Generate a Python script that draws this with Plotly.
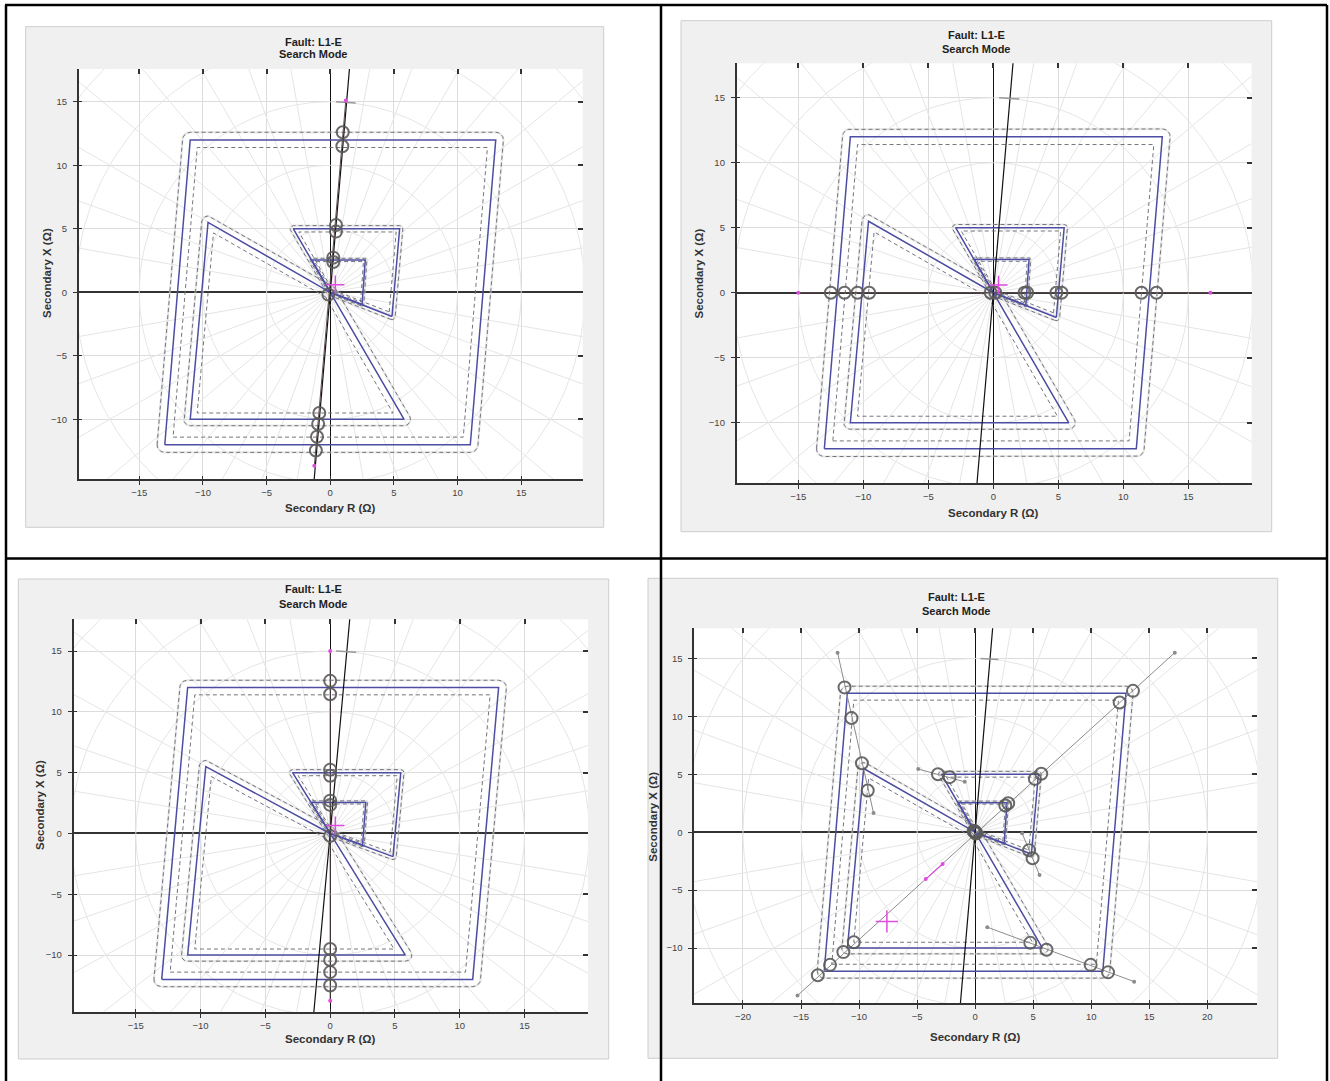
import numpy as np
import plotly.graph_objects as go

W, H = 1330, 1081

# ---------------- zone characteristics (secondary ohms) ----------------
zone1_R = [-11.0, 13.0, 11.0, -13.0]
zone1_X = [12.0, 12.0, -12.0, -12.0]
zone2_R = [0.0, -9.6, -11.0, 5.8]
zone2_X = [0.0, 5.5, -10.0, -10.0]
zone3_R = [0.0, -2.9, 5.45, 4.85]
zone3_X = [0.0, 5.0, 5.0, -1.9]
zone4_R = [0.0, -1.45, 2.75, 2.5]
zone4_X = [0.0, 2.55, 2.55, -0.95]
zone_tol = [0.6, 0.5, 0.25, 0.13]

line_angle_deg = 85.1          # line impedance angle
polar_radii = [5, 10, 15, 20, 25, 30]
polar_step_deg = 10

# ---------------- search results ----------------
# plot 1: search along the line angle
p1_hit_R = [0.98, 0.95, 0.45, 0.45, 0.24, 0.24, -0.15, -0.86, -0.95, -1.04, -1.13]
p1_hit_X = [12.6, 11.5, 5.3, 4.78, 2.73, 2.39, -0.18, -9.5, -10.37, -11.37, -12.45]
p1_end_R = [1.22, -1.25]
p1_end_X = [15.1, -13.65]
p1_fault_R = [0.4]
p1_fault_X = [0.6]

# plot 2: search along the R axis
p2_hit_R = [-12.5, -11.45, -10.45, -9.55, -0.2, 0.15, 2.4, 2.6, 4.85, 5.25, 11.4, 12.55]
p2_hit_X = [0.0] * 12
p2_end_R = [-15.0, 16.7]
p2_end_X = [0.0, 0.0]
p2_fault_R = [0.4]
p2_fault_X = [0.6]

# plot 3: search along the X axis
p3_hit_R = [0.0] * 11
p3_hit_X = [12.55, 11.45, 5.25, 4.75, 2.7, 2.35, -0.2, -9.5, -10.4, -11.4, -12.5]
p3_end_R = [0.0, 0.0]
p3_end_X = [15.0, -13.75]
p3_fault_R = [0.4]
p3_fault_X = [0.65]

# plot 4: several search lines
p4_lines_R = [[-15.3, 17.2], [-11.85, -8.75], [-4.9, -0.9], [4.05, 5.55], [1.05, 13.7]]
p4_lines_X = [[-14.1, 15.5], [15.5, 1.65], [5.45, 4.35], [-0.1, -3.7], [-8.2, -12.9]]
p4_hit_R = [13.6, 12.45, 5.7, 5.15, 2.85, 2.6, -10.45, -11.35, -12.5, -13.55,
            -11.25, -10.65, -9.75, -9.25, -3.2, -2.2, 4.65, 4.95,
            4.75, 6.15, 9.95, 11.45, 0.0, -0.12, 0.1, 0.05, -0.05]
p4_hit_X = [12.2, 11.2, 5.05, 4.6, 2.5, 2.3, -9.5, -10.35, -11.45, -12.35,
            12.5, 9.85, 5.95, 3.6, 5.0, 4.75, -1.55, -2.25,
            -9.55, -10.15, -11.45, -12.1, 0.0, 0.08, -0.06, -0.12, 0.1]
p4_test_R = [-2.8, -4.25]
p4_test_X = [-2.75, -4.05]
p4_fault_R = [-7.6]
p4_fault_X = [-7.7]

arc_mark_R = [0.45, 2.0]
arc_mark_X = [15.0, 14.9]

# ---------------- layout geometry (pixels) ----------------
panels = [
    dict(plot=(78.7, 582.7, 69.0, 479.3), xr=(-19.76, 19.83), yr=(-14.72, 17.58),
         bg=(25.7, 603.7, 26.7, 527.3), title=(313, 41.5, 54.0),
         xt=(330.5, 508.3), yt=(47, 273), xticks=[-15, -10, -5, 0, 5, 10, 15]),
    dict(plot=(736.6, 1251.6, 63.3, 483.3), xr=(-19.75, 19.87), yr=(-14.66, 17.65),
         bg=(681, 1271.7, 20.7, 531.7), title=(976, 35.0, 48.5),
         xt=(993, 512.7), yt=(698.5, 273), xticks=[-15, -10, -5, 0, 5, 10, 15]),
    dict(plot=(73.5, 588.0, 619.2, 1012.0), xr=(-19.81, 19.9), yr=(-14.68, 17.62),
         bg=(18.3, 608.7, 579, 1059), title=(313, 589.0, 604),
         xt=(330, 1039.3), yt=(40, 805), xticks=[-15, -10, -5, 0, 5, 10, 15]),
    dict(plot=(694.2, 1257.2, 628.3, 1003.3), xr=(-24.2, 24.3), yr=(-14.77, 17.6),
         bg=(648, 1277.7, 578.3, 1058.3), title=(956, 597.0, 611.0),
         xt=(975, 1036.7), yt=(653, 816.7), xticks=[-20, -15, -10, -5, 0, 5, 10, 15, 20]),
]
yticks = [-10, -5, 0, 5, 10, 15]

ZONE_COLOR = "#4d4da3"
TOL_COLOR = "#74747e"
HALO_COLOR = "rgba(215,215,215,0.55)"
GRID_COLOR = "#dcdcdc"
POLAR_COLOR = "#e5e5e5"
HIT_COLOR = "rgba(90,90,90,0.9)"
MAGENTA = "#e04be0"
FONT = "Liberation Sans, Arial, sans-serif"


def ccw(R, X):
    P = np.column_stack([R, X]).astype(float)
    x, y = P[:, 0], P[:, 1]
    area = 0.5 * np.sum(x * np.roll(y, -1) - np.roll(x, -1) * y)
    return P if area > 0 else P[::-1]


def outer_band(R, X, d, n=10):
    P = ccw(R, X)
    m = len(P)
    pts = []
    for i in range(m):
        e0 = P[i] - P[i - 1]
        e1 = P[(i + 1) % m] - P[i]
        n0 = np.array([e0[1], -e0[0]]) / np.hypot(*e0)
        n1 = np.array([e1[1], -e1[0]]) / np.hypot(*e1)
        a0 = np.arctan2(n0[1], n0[0])
        a1 = np.arctan2(n1[1], n1[0])
        if a1 < a0:
            a1 += 2 * np.pi
        t = np.linspace(a0, a1, n)
        pts.extend(zip(P[i, 0] + d * np.cos(t), P[i, 1] + d * np.sin(t)))
    pts.append(pts[0])
    return np.array(pts)


def inner_band(R, X, d):
    P = ccw(R, X)
    m = len(P)
    lines = []
    for i in range(m):
        a, b = P[i], P[(i + 1) % m]
        e = b - a
        nrm = np.array([-e[1], e[0]]) / np.hypot(*e)
        lines.append((a + d * nrm, e))
    pts = []
    for i in range(m):
        (p1, e1), (p2, e2) = lines[i - 1], lines[i]
        A = np.array([e1, -e2]).T
        t, _ = np.linalg.solve(A, p2 - p1)
        pts.append(p1 + t * e1)
    pts.append(pts[0])
    return np.array(pts)


def join(polys):
    xs, ys = [], []
    for p in polys:
        xs += list(p[:, 0]) + [None]
        ys += list(p[:, 1]) + [None]
    return xs, ys


zones = [(zone1_R, zone1_X), (zone2_R, zone2_X), (zone3_R, zone3_X), (zone4_R, zone4_X)]
solid = [np.vstack([ccw(R, X), ccw(R, X)[:1]]) for R, X in zones]
outer = [outer_band(R, X, d) for (R, X), d in zip(zones, zone_tol)]
inner = [inner_band(R, X, d) for (R, X), d in zip(zones, zone_tol)]

# polar grid
theta = np.linspace(0, 2 * np.pi, 241)
circ_x, circ_y = [], []
for r in polar_radii:
    circ_x += list(r * np.cos(theta)) + [None]
    circ_y += list(r * np.sin(theta)) + [None]
ray_x, ray_y = [], []
for a in range(0, 360, polar_step_deg):
    if a % 90 == 0:
        continue
    ra = np.radians(a)
    ray_x += [0, 40 * np.cos(ra), None]
    ray_y += [0, 40 * np.sin(ra), None]

# line impedance angle line
slope = 1 / np.tan(np.radians(line_angle_deg))
zl_X = np.array([-20.0, 20.0])
zl_R = zl_X * slope

fig = go.Figure()


def add(i, **kw):
    fig.add_trace(go.Scatter(xaxis=f"x{i + 1}", yaxis=f"y{i + 1}", showlegend=False,
                             hoverinfo="skip", **kw))


searches = [
    (p1_hit_R, p1_hit_X, p1_end_R, p1_end_X, p1_fault_R, p1_fault_X),
    (p2_hit_R, p2_hit_X, p2_end_R, p2_end_X, p2_fault_R, p2_fault_X),
    (p3_hit_R, p3_hit_X, p3_end_R, p3_end_X, p3_fault_R, p3_fault_X),
]

for i in range(4):
    add(i, x=circ_x, y=circ_y, mode="lines", line=dict(color=POLAR_COLOR, width=1))
    add(i, x=ray_x, y=ray_y, mode="lines", line=dict(color=POLAR_COLOR, width=1))
    ox, oy = join(outer)
    add(i, x=ox, y=oy, mode="lines", line=dict(color=HALO_COLOR, width=2.2))
    add(i, x=ox, y=oy, mode="lines", line=dict(color=TOL_COLOR, width=1, dash="4px,3px"))
    ix, iy = join(inner)
    add(i, x=ix, y=iy, mode="lines", line=dict(color=TOL_COLOR, width=1, dash="4px,3px"))
    sx, sy = join(solid)
    add(i, x=sx, y=sy, mode="lines", line=dict(color=ZONE_COLOR, width=1.5))
    add(i, x=list(zl_R), y=list(zl_X), mode="lines", line=dict(color="#111111", width=1.2))
    add(i, x=arc_mark_R, y=arc_mark_X, mode="lines", line=dict(color="#9a9a9a", width=1.5))

    if i < 3:
        hR, hX, eR, eX, fR, fX = searches[i]
        add(i, x=eR, y=eX, mode="lines", line=dict(color="#5d4a4a", width=1))
        add(i, x=hR, y=hX, mode="markers",
            marker=dict(symbol="circle-open", size=12, color=HIT_COLOR, line=dict(width=2)))
        add(i, x=eR, y=eX, mode="markers", marker=dict(size=4, color=MAGENTA))
        add(i, x=fR, y=fX, mode="markers",
            marker=dict(symbol="cross-thin-open", size=13, color=MAGENTA, line=dict(width=1.5)))
    else:
        lx, ly = [], []
        for R, X in zip(p4_lines_R, p4_lines_X):
            lx += R + [None]
            ly += X + [None]
        add(i, x=lx, y=ly, mode="lines+markers", line=dict(color="#8c8c8c", width=1),
            marker=dict(size=4, color="#8c8c8c"))
        add(i, x=p4_hit_R, y=p4_hit_X, mode="markers",
            marker=dict(symbol="circle-open", size=12, color=HIT_COLOR, line=dict(width=2)))
        add(i, x=p4_test_R, y=p4_test_X, mode="lines+markers",
            line=dict(color=MAGENTA, width=1.2), marker=dict(size=4, color=MAGENTA))
        add(i, x=p4_fault_R, y=p4_fault_X, mode="markers",
            marker=dict(symbol="cross-thin-open", size=16, color=MAGENTA, line=dict(width=1.5)))

    # invisible traces anchoring the extra tick axes
    for k in (5, 9):
        fig.add_trace(go.Scatter(x=[0], y=[0], xaxis=f"x{i + k}", yaxis=f"y{i + k}",
                                 mode="markers", marker=dict(opacity=0), showlegend=False,
                                 hoverinfo="skip"))

shapes = []
annotations = []
layout = dict(width=W, height=H, margin=dict(l=0, r=0, t=0, b=0),
              paper_bgcolor="white", plot_bgcolor="rgba(0,0,0,0)",
              font=dict(family=FONT, size=9.5, color="#444444"))

for i, p in enumerate(panels):
    x0, x1, y0, y1 = p["plot"]
    dx = [x0 / W, x1 / W]
    dy = [1 - y1 / H, 1 - y0 / H]
    n = i + 1
    layout[f"xaxis{n}"] = dict(domain=dx, range=list(p["xr"]), anchor=f"y{n}",
                               tickvals=p["xticks"], ticks="outside", ticklen=4,
                               tickcolor="#333", showline=True, linecolor="#333",
                               linewidth=1.5, showgrid=True, gridcolor=GRID_COLOR,
                               zeroline=True, zerolinecolor="#111", zerolinewidth=1.3,
                               tickfont=dict(size=9.5, color="#444"))
    layout[f"yaxis{n}"] = dict(domain=dy, range=list(p["yr"]), anchor=f"x{n}",
                               tickvals=yticks, ticks="outside", ticklen=4,
                               tickcolor="#333", showline=True, linecolor="#333",
                               linewidth=1.5, showgrid=True, gridcolor=GRID_COLOR,
                               zeroline=True, zerolinecolor="#333", zerolinewidth=1.8,
                               tickfont=dict(size=9.5, color="#444"), ticklabelstandoff=4)
    # mirrored ticks on top/right
    m = i + 5
    layout[f"xaxis{m}"] = dict(overlaying=f"x{n}", anchor=f"y{n}", side="top",
                               range=list(p["xr"]), tickvals=p["xticks"], ticks="inside",
                               ticklen=5, tickwidth=1.5, tickcolor="#333",
                               showticklabels=False, showgrid=False, zeroline=False,
                               showline=False)
    layout[f"yaxis{m}"] = dict(overlaying=f"y{n}", anchor=f"x{n}", side="right",
                               range=list(p["yr"]), tickvals=yticks, ticks="inside",
                               ticklen=5, tickwidth=1.5, tickcolor="#333",
                               showticklabels=False, showgrid=False, zeroline=False,
                               showline=False)
    # short inner ticks crossing the bottom/left axis lines
    m = i + 9
    layout[f"xaxis{m}"] = dict(overlaying=f"x{n}", anchor=f"y{n}", side="bottom",
                               range=list(p["xr"]), tickvals=p["xticks"], ticks="inside",
                               ticklen=3, tickwidth=1, tickcolor="#333",
                               showticklabels=False, showgrid=False, zeroline=False,
                               showline=False)
    layout[f"yaxis{m}"] = dict(overlaying=f"y{n}", anchor=f"x{n}", side="left",
                               range=list(p["yr"]), tickvals=yticks, ticks="inside",
                               ticklen=3, tickwidth=1, tickcolor="#333",
                               showticklabels=False, showgrid=False, zeroline=False,
                               showline=False)

    bx0, bx1, by0, by1 = p["bg"]
    shapes.append(dict(type="rect", xref="paper", yref="paper", layer="below",
                       x0=bx0 / W, x1=bx1 / W, y0=1 - by1 / H, y1=1 - by0 / H,
                       fillcolor="#f0f0f0", line=dict(color="#cdcdcd", width=1)))
    shapes.append(dict(type="rect", xref="paper", yref="paper", layer="below",
                       x0=x0 / W, x1=x1 / W, y0=1 - y1 / H, y1=1 - y0 / H,
                       fillcolor="white", line=dict(width=0)))

    tx, ty1, ty2 = p["title"]
    for txt, ty in (("Fault: L1-E", ty1), ("Search Mode", ty2)):
        annotations.append(dict(text=f"<b>{txt}</b>", x=tx / W, y=1 - ty / H,
                                xref="paper", yref="paper", showarrow=False,
                                xanchor="center", yanchor="middle",
                                font=dict(size=11, color="#1e1e1e", family=FONT)))
    ax, ay = p["xt"]
    annotations.append(dict(text="<b>Secondary R (Ω)</b>", x=ax / W, y=1 - ay / H,
                            xref="paper", yref="paper", showarrow=False,
                            xanchor="center", yanchor="middle",
                            font=dict(size=11.5, color="#333", family=FONT)))
    ax, ay = p["yt"]
    annotations.append(dict(text="<b>Secondary X (Ω)</b>", x=ax / W, y=1 - ay / H,
                            xref="paper", yref="paper", showarrow=False, textangle=-90,
                            xanchor="center", yanchor="middle",
                            font=dict(size=11.5, color="#333", family=FONT)))

# table frame around the four plots
frame = [(6, 5, 6, H), (5, 5, 1327, 5), (1327, 5, 1327, H), (661, 5, 661, H), (6, 558.5, 1327, 558.5)]
for fx0, fy0, fx1, fy1 in frame:
    shapes.append(dict(type="line", xref="paper", yref="paper", layer="below",
                       x0=fx0 / W, x1=fx1 / W, y0=1 - fy0 / H, y1=1 - fy1 / H,
                       line=dict(color="black", width=2.5)))

layout["shapes"] = shapes
layout["annotations"] = annotations
fig.update_layout(**layout)
fig.write_html("out.html")
